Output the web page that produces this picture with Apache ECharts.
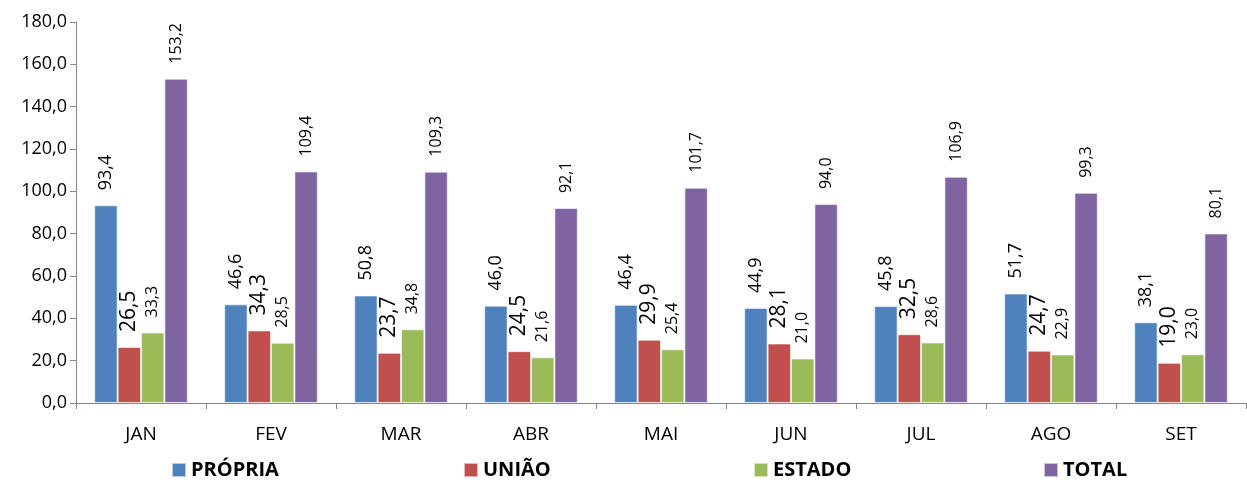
<!DOCTYPE html>
<html>
<head>
<meta charset="utf-8">
<script src="https://cdn.jsdelivr.net/npm/echarts@6/dist/echarts.min.js"></script>
<style>
  html, body { margin: 0; padding: 0; background: #fff; }
  #chart { width: 1247px; height: 480px; }
</style>
</head>
<body>
<div id="chart"></div>
<script>
// meses
var meses = ['JAN', 'FEV', 'MAR', 'ABR', 'MAI', 'JUN', 'JUL', 'AGO', 'SET'];
var propria = [93.4, 46.6, 50.8, 46.0, 46.4, 44.9, 45.8, 51.7, 38.1];
var uniao = [26.5, 34.3, 23.7, 24.5, 29.9, 28.1, 32.5, 24.7, 19.0];
var estado = [33.3, 28.5, 34.8, 21.6, 25.4, 21.0, 28.6, 22.9, 23.0];
var total = [153.2, 109.4, 109.3, 92.1, 101.7, 94.0, 106.9, 99.3, 80.1];
var nomes = ['PRÓPRIA', 'UNIÃO', 'ESTADO', 'TOTAL'];
var cores = ['#4F81BD', '#C0504D', '#9BBB59', '#8064A2'];

var fonte = '"Open Sans", sans-serif';

function virgula(v) {
    return Number(v).toFixed(1).replace('.', ',');
}

var chart = echarts.init(document.getElementById('chart'));

function serie(nome, dados, cor, tam) {
    return {
        name: nome,
        type: 'bar',
        data: dados,
        barGap: '0%',
        barCategoryGap: '28%',
        itemStyle: { color: cor, borderColor: 'rgba(255,255,255,0.6)', borderWidth: 1 },
        label: {
            show: true,
            position: 'top',
            rotate: 90,
            align: 'left',
            verticalAlign: 'middle',
            distance: 15,
            color: '#000',
            fontFamily: fonte,
            fontSize: tam,
            formatter: function (p) { return virgula(p.value); }
        }
    };
}

// uma legenda por item para espaçar igual
var posLegenda = [166, 458, 748, 1038];
var legendas = nomes.map(function (n, i) {
    return {
        data: [n],
        left: posLegenda[i],
        top: 455,
        itemWidth: 14,
        itemHeight: 14,
        itemGap: 6,
        icon: 'rect',
        textStyle: { fontFamily: fonte, fontSize: 20, fontWeight: 'bold', color: '#000' }
    };
});

var option = {
    animation: false,
    color: cores,
    legend: legendas,
    grid: { left: 76, right: 1, top: 22, bottom: 77, containLabel: false },
    xAxis: {
        type: 'category',
        data: meses,
        axisLine: { lineStyle: { color: '#868686' } },
        axisTick: { show: true, length: 6, lineStyle: { color: '#868686' } },
        axisLabel: { color: '#000', fontFamily: fonte, fontSize: 19, margin: 22 }
    },
    yAxis: {
        type: 'value',
        min: 0,
        max: 180,
        interval: 20,
        axisLine: { show: true, lineStyle: { color: '#868686' } },
        axisTick: { show: true, length: 6, lineStyle: { color: '#868686' } },
        splitLine: { show: false },
        axisLabel: {
            color: '#000', fontFamily: fonte, fontSize: 18, margin: 9,
            formatter: function (v) { return virgula(v); }
        }
    },
    series: [
        serie(nomes[0], propria, cores[0], 18),
        serie(nomes[1], uniao, cores[1], 21),
        serie(nomes[2], estado, cores[2], 16),
        serie(nomes[3], total, cores[3], 16)
    ]
};

chart.setOption(option);
</script>
</body>
</html>
